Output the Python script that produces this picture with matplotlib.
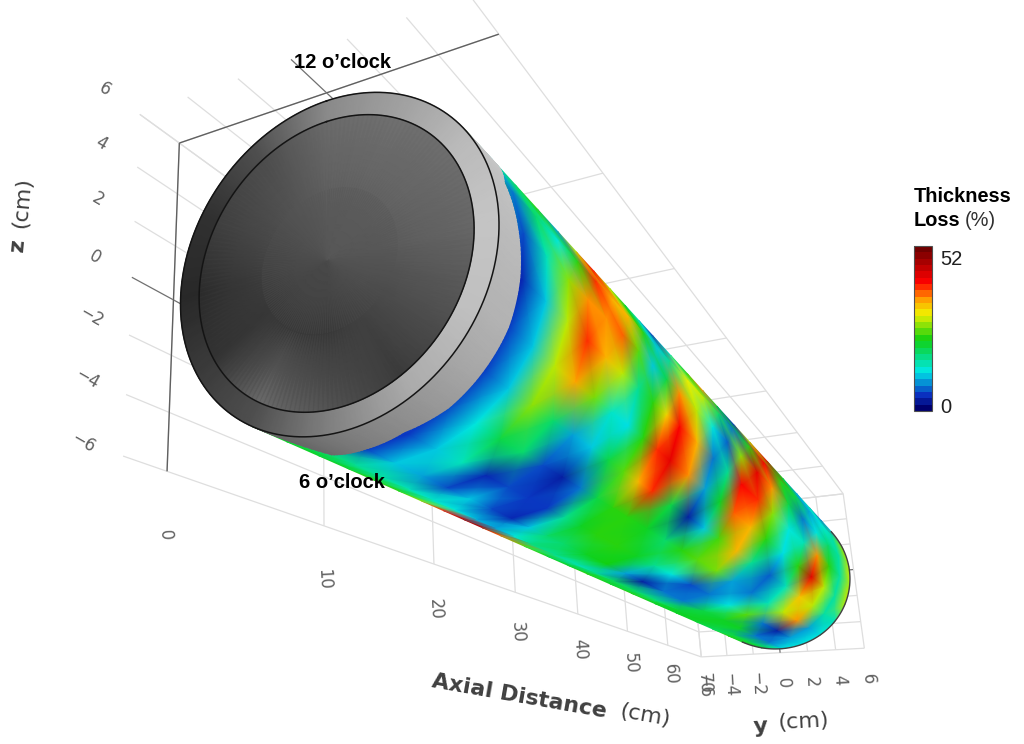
import numpy as np
import matplotlib
matplotlib.use("Agg")
import matplotlib.pyplot as plt
from matplotlib.colors import LinearSegmentedColormap, Normalize
from matplotlib.cm import ScalarMappable

stations = [0,2,4,6,8,10,12,14,16,18,20,23,26,29,32,36,40,45,50,55,60,65,70]
# one row per line along the pipe, from the upper edge to the lower edge as seen
loss_r0  = [28,10,18,24, 8,30,44,30,22,14, 3,14,24,38,22, 3,30,46,22, 8,14, 6,10]
loss_r1  = [20, 6,18,12,24,42,36,36,24,10,16,32,30,18, 6,24,44,24,20, 8,12,15,28]
loss_r2  = [ 8, 4,14,28,38,38,40,26,10,20,38,30,12, 5,28,46,38,20, 6,12,18,15,30]
loss_r3  = [ 3, 2,10,30,42,36,30,16,24,34,44,36, 6,16,44,42,28,12,14,38,24,15,30]
loss_r4  = [ 3, 3,10,30,37,27,13,11,24,42,46,38, 8,22,40,36,24,11,24,46,30,15,30]
loss_r5  = [ 3, 3,10,28,18, 8,10,20,26,36,42,20, 1,10,25,36,16, 5,14,35,30,15,14]
loss_r6  = [ 4, 4,12,20,18, 4, 1, 6,20,24,24,22,18,24,26,27, 8, 6,14,30,38, 8,12]
loss_r7  = [ 4, 3,10,14, 2, 4, 3, 3,16,22,24,24,22,16,12, 4, 6,12,26, 6, 1, 8,12]
loss_r8  = [ 4, 3,10, 8, 4,10, 4, 2,10,18,18,22,23, 8, 1, 6, 6,20,22,22, 6, 6,12]
loss_r9  = [20,18,16,15,14,13,12, 9, 8,12,17,16,14,16,19,18,17,21,22,20,20,20,20]
loss_r10 = [22,22,22,22,24,24,28,42,50,50,40,26,22,22,24,22,24,22,22,22,18,24,22]

# Grey levels of the bare end of the pipe, every 30 degrees clockwise from z+.
clock_deg   = [0,30,60,90,120,150,180,210,240,270,300,330,360]
ring_grey   = [.54,.63,.73,.77,.75,.67,.50,.31,.23,.16,.19,.31,.54]
wall_rim    = [.42,.44,.43,.41,.33,.23,.33,.42,.20,.17,.25,.30,.42]
wall_mid    = [.37,.38,.38,.36,.31,.26,.22,.22,.22,.25,.29,.33,.37]
wall_centre = .32
# uncoated collar next to the end of the pipe
collar_end  = [2.5,1.3,1.5,1.8,2.0,2.0,2.0,1.7,2.0,2.5,0]
collar_grey = [.78,.76,.74,.72,.70,.66,.60,.54,.48,.42,.38]

x_ticks = [0,10,20,30,40,50,60,70]
y_ticks = [-6,-4,-2,0,2,4,6]
z_ticks = [-6,-4,-2,0,2,4,6]

# Camera calibration: known box points (cm) and where they land in the picture.
world = np.array([(0,-6,-6),(0,-6,6),(0,6,6),(10,-6,-6),(20,-6,-6),(30,-6,-6),(40,-6,-6),(50,-6,-6),
                  (60,-6,-6),(70,-6,-6),(70,6,-6),(70,6,6),(70,-4,-6),(70,-2,-6),(70,0,-6),(70,2,-6),(70,4,-6)],float)
pixel = np.array([(169,473),(180,143),(501,31),(324,526),(433,564),(514,593),(576,614),(626,632),
                  (666,645),(702,657),(863,649),(842,495),(729,655),(755,653),(782,652),(808,651),(835,650)],float)

def fit_camera(w, p):
	rows = []
	for (X,Y,Z),(u,v) in zip(w,p):
		rows.append([X,Y,Z,1,0,0,0,0,-u*X,-u*Y,-u*Z,-u])
		rows.append([0,0,0,0,X,Y,Z,1,-v*X,-v*Y,-v*Z,-v])
	return np.linalg.svd(np.array(rows))[2][-1].reshape(3,4)

P = fit_camera(world, pixel)

def project(x, y, z):
	x, y, z = np.broadcast_arrays(np.asarray(x,float), np.asarray(y,float), np.asarray(z,float))
	h = np.stack([x,y,z,np.ones_like(x)],axis=-1) @ P.T
	return h[...,0]/h[...,2], h[...,1]/h[...,2]

# Edges of the visible side of the pipe follow from the camera position.
cam = np.linalg.svd(P)[2][-1]
cam = cam[:3]/cam[3]
R_out = 5.7
R_in = 4.93
th_c = np.arctan2(cam[1],cam[2])
d_th = np.arccos(R_out/np.hypot(cam[1],cam[2]))
loss = np.array([loss_r0,loss_r1,loss_r2,loss_r3,loss_r4,loss_r5,loss_r6,loss_r7,loss_r8,loss_r9,loss_r10],float)
th = np.linspace(th_c-d_th,th_c+d_th,loss.shape[0])

cmap = LinearSegmentedColormap.from_list("loss",[(0,"#00006e"),(.08,"#0a2fc0"),(.23,"#00e8e8"),(.43,"#10d010"),
                                                 (.59,"#f0f000"),(.68,"#ffa000"),(.79,"#ff0000"),(1,"#700000")],N=256)
norm = Normalize(-2,56)

fig = plt.figure(figsize=(10.24,7.44),dpi=100)
ax = fig.add_axes([0,0,1,1])
ax.set_xlim(0,1024); ax.set_ylim(744,0); ax.axis('off')

#------------------------------------------------------------------------------
# Grid on the three back walls.
#------------------------------------------------------------------------------
grid = "#dedede"
dark = "#707070"
x_back = -2.2
def line(x, y, z, colour=grid, lw=0.9):
	u, v = project(x, y, z)
	ax.plot(u, v, color=colour, lw=lw, zorder=1, solid_capstyle='butt')

for z in z_ticks:
	line([x_back,70],-6,z, dark if z == 0 else grid)
	line(70,[-6,6],z, dark if z == 0 else grid)
for y in y_ticks:
	line([x_back,70],y,6, dark if y == 0 else grid)
	line(70,y,[-6,6], dark if y == 0 else grid)
for x in x_ticks:
	line(x,-6,[-6,6])
	line(x,[-6,6],6)
line(0,[-6,6],6,"#606060",1.0)
line(0,-6,[-6,6],"#606060",1.0)

#------------------------------------------------------------------------------
# The pipe.
#------------------------------------------------------------------------------
S, T = np.meshgrid(stations, th)
U, V = project(S, R_out*np.sin(T), R_out*np.cos(T))
ax.pcolormesh(U, V, loss, shading='gouraud', cmap=cmap, norm=norm, zorder=2)

# collar, on a finer angle mesh so that its ends stay round
th_fine = np.linspace(th[0],th[-1],121)
end_fine = np.interp(th_fine,th,collar_end)
grey_fine = np.interp(th_fine,th,collar_grey)
XC = np.vstack([np.zeros(th_fine.size), end_fine]).T
TC = np.vstack([th_fine, th_fine]).T
U, V = project(XC, R_out*np.sin(TC), R_out*np.cos(TC))
ax.pcolormesh(U, V, np.vstack([grey_fine, grey_fine]).T, shading='gouraud', cmap='gray', vmin=0, vmax=1, zorder=3)

# end face
a = np.linspace(0,360,181)
shade = lambda vals: np.interp(a,clock_deg,vals)
AA, RR = np.meshgrid(np.radians(a), [R_in,R_out])
U, V = project(0*AA, RR*np.sin(AA), RR*np.cos(AA))
ax.pcolormesh(U, V, np.vstack([shade(ring_grey), shade(ring_grey)]), shading='gouraud', cmap='gray', vmin=0, vmax=1, zorder=4)
AA, RR = np.meshgrid(np.radians(a), [0,R_in/2,R_in])
U, V = project(0*AA, RR*np.sin(AA), RR*np.cos(AA))
ax.pcolormesh(U, V, np.vstack([np.full(a.size,wall_centre), shade(wall_mid), shade(wall_rim)]), shading='gouraud', cmap='gray', vmin=0, vmax=1, zorder=4)

fine = np.radians(a)
for r in (R_in, R_out):
	u, v = project(0*fine, r*np.sin(fine), r*np.cos(fine))
	ax.plot(u, v, color='#141414', lw=1.1, zorder=5)
u, v = project(70+0*th_fine, R_out*np.sin(th_fine), R_out*np.cos(th_fine))
ax.plot(u, v, color='#404040', lw=1.0, zorder=5)

#------------------------------------------------------------------------------
# Ticks and titles.
#------------------------------------------------------------------------------
tick_col = "#606060"
for z in z_ticks:
	u, v = project(-4.0,-6,z)
	ax.text(u, v, str(z).replace('-','\u2212'), color=tick_col, fontsize=12, rotation=-30, ha='center', va='center')
for x in x_ticks:
	u, v = project(x,-6,-8.1)
	ax.text(u, v, str(x), color=tick_col, fontsize=12, rotation=-87, ha='center', va='center')
for y in y_ticks:
	u, v = project(70,y,-8.3)
	ax.text(u, v, str(y).replace('-','\u2212'), color=tick_col, fontsize=12, rotation=-87, ha='center', va='center')

title_col = "#404040"
ax.text(18,245,"z",color=title_col,fontsize=16,fontweight='bold',rotation=85,ha='center',va='center')
ax.text(22,203,"(cm)",color=title_col,fontsize=16,rotation=85,ha='center',va='center')
ax.text(519,696,"Axial Distance",color=title_col,fontsize=15.8,fontweight='bold',rotation=-10,ha='center',va='center')
ax.text(645,716,"(cm)",color=title_col,fontsize=16,rotation=-10,ha='center',va='center')
ax.text(760,727,"y",color=title_col,fontsize=16,fontweight='bold',rotation=3,ha='center',va='center')
ax.text(803,722,"(cm)",color=title_col,fontsize=16,rotation=3,ha='center',va='center')

ax.text(342,62,"12 o\u2019clock",family='Liberation Sans',fontsize=14.5,fontweight='bold',ha='center',va='center',zorder=6)
ax.text(342,482,"6 o\u2019clock",family='Liberation Sans',fontsize=14.5,fontweight='bold',ha='center',va='center',zorder=6)

#------------------------------------------------------------------------------
# Colour scale.
#------------------------------------------------------------------------------
cax = fig.add_axes([914/1024,1-411/744,18/1024,165/744])
bar_cmap = LinearSegmentedColormap.from_list("bar",cmap(np.linspace(0,1,256)),N=26)
cb = fig.colorbar(ScalarMappable(norm=norm,cmap=bar_cmap),cax=cax)
cb.set_ticks([0,52])
cb.ax.tick_params(length=0,pad=6,labelsize=14.5,colors='#202020')
for t in cb.ax.get_yticklabels():
	t.set_family('Liberation Sans')
cb.outline.set_edgecolor('#505050')
cb.outline.set_linewidth(0.8)
ax.text(914,196,"Thickness",family='Liberation Sans',fontsize=14.4,fontweight='bold',ha='left',va='center')
ax.text(914,220,"Loss",family='Liberation Sans',fontsize=14.4,fontweight='bold',ha='left',va='center')
ax.text(965,220,"(%)",family='Liberation Sans',fontsize=14.4,color='#303030',ha='left',va='center')

fig.savefig("out.png",dpi=100)
